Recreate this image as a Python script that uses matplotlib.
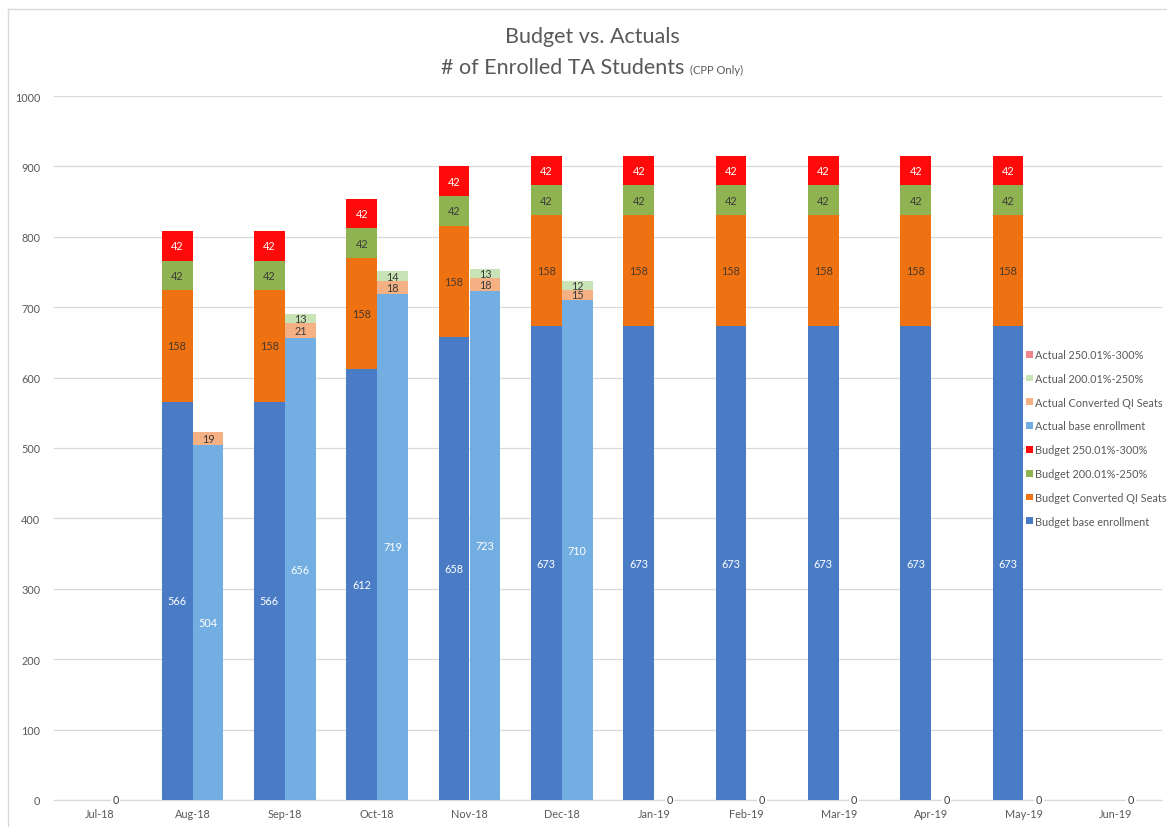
import matplotlib
matplotlib.use("Agg")
import matplotlib.pyplot as plt
from matplotlib.patches import Patch
from matplotlib.lines import Line2D
import numpy as np

plt.rcParams['font.family'] = ['Lato', 'DejaVu Sans']

months = ["Jul-18", "Aug-18", "Sep-18", "Oct-18", "Nov-18", "Dec-18",
          "Jan-19", "Feb-19", "Mar-19", "Apr-19", "May-19", "Jun-19"]

budget_base = [0, 566, 566, 612, 658, 673, 673, 673, 673, 673, 673, 0]
budget_qi = [0, 158, 158, 158, 158, 158, 158, 158, 158, 158, 158, 0]
budget_200 = [0, 42, 42, 42, 42, 42, 42, 42, 42, 42, 42, 0]
budget_250 = [0, 42, 42, 42, 42, 42, 42, 42, 42, 42, 42, 0]

actual_base = [0, 504, 656, 719, 723, 710, 0, 0, 0, 0, 0, 0]
actual_qi = [0, 19, 21, 18, 18, 15, 0, 0, 0, 0, 0, 0]
actual_200 = [0, 0, 13, 14, 13, 12, 0, 0, 0, 0, 0, 0]
actual_250 = [0, 0, 0, 0, 0, 0, 0, 0, 0, 0, 0, 0]

yticks = list(range(0, 1001, 100))

C_BASE = "#4A7CC6"
C_QI = "#EE7112"
C_200 = "#8FB350"
C_250 = "#FF0A0A"
C_ABASE = "#72AEE2"
C_AQI = "#F5B184"
C_A200 = "#C8E3B5"
C_A250 = "#F2848E"

W, H = 1167, 828
fig = plt.figure(figsize=(W / 100, H / 100), dpi=100)
AX_L, AX_R, AX_B, AX_T = 54, 1162, 801, 97
ax = fig.add_axes([AX_L / W, (H - AX_B) / H, (AX_R - AX_L) / W, (AX_B - AX_T) / H])

x = np.arange(len(months))
bw = 0.335
xb = x - bw / 2
xa = x + bw / 2

def stack(ax, xs, layers, colors, label_colors):
    bottom = np.zeros(len(xs))
    for vals, col, lc in zip(layers, colors, label_colors):
        vals = np.array(vals, dtype=float)
        bars = ax.bar(xs, vals, bw, bottom=bottom, color=col, edgecolor="none", zorder=3)
        for rect, v, b in zip(bars, vals, bottom):
            if v > 0:
                ax.text(rect.get_x() + rect.get_width() / 2, b + v / 2, f"{int(v)}",
                        ha="center", va="center", fontsize=7.8, color=lc, zorder=4)
        bottom = bottom + vals
    return bottom

stack(ax, xb, [budget_base, budget_qi, budget_200, budget_250],
      [C_BASE, C_QI, C_200, C_250],
      ["white", "#4a3a2a", "#3a3a3a", "white"])
stack(ax, xa, [actual_base, actual_qi, actual_200, actual_250],
      [C_ABASE, C_AQI, C_A200, C_A250],
      ["white", "#3a3a3a", "#3a3a3a", "white"])

# zero-value labels for months with no actual enrollment yet
for xi, v, q, g, r in zip(xa, actual_base, actual_qi, actual_200, actual_250):
    if v + q + g + r == 0:
        ax.text(xi, 0, "0", ha="center", va="center", fontsize=7.8, color="#404040",
                zorder=5, bbox=dict(boxstyle="square,pad=0.15", fc="white", ec="none"))

ax.set_xlim(-0.5, len(months) - 0.5)
ax.set_ylim(0, 1000)
ax.set_yticks(yticks)
ax.set_yticklabels([str(t) for t in yticks], fontsize=7.8, color="#595959")
ax.set_xticks(x)
ax.set_xticklabels(months, fontsize=7.8, color="#595959")
ax.tick_params(axis="both", length=0)
ax.tick_params(axis="y", pad=10)
ax.tick_params(axis="x", pad=6)
ax.grid(axis="y", color="#D9D9D9", linewidth=0.9, zorder=0)
ax.set_axisbelow(True)
for s in ["top", "right", "left"]:
    ax.spines[s].set_visible(False)
ax.spines["bottom"].set_color("#D9D9D9")
ax.spines["bottom"].set_linewidth(0.9)

legend_items = [
    ("Actual 250.01%-300%", C_A250),
    ("Actual 200.01%-250%", C_A200),
    ("Actual Converted QI Seats", C_AQI),
    ("Actual base enrollment", C_ABASE),
    ("Budget 250.01%-300%", C_250),
    ("Budget 200.01%-250%", C_200),
    ("Budget Converted QI Seats", C_QI),
    ("Budget base enrollment", C_BASE),
]
handles = [Patch(facecolor=c, edgecolor="none", label=l) for l, c in legend_items]
leg = ax.legend(handles=handles, loc="upper left",
                bbox_to_anchor=((1025 - AX_L) / (AX_R - AX_L), (AX_B - 349) / (AX_B - AX_T)),
                frameon=True, fancybox=False, facecolor="white", edgecolor="none",
                framealpha=1, fontsize=7.8, handlelength=0.6, handleheight=0.6,
                handletextpad=0.25, labelspacing=1.18, borderaxespad=0, borderpad=0.1)
leg.set_zorder(6)
for t in leg.get_texts():
    t.set_color("#595959")

# chart frame
fig.add_artist(Line2D([8 / W, 8 / W], [0, 1 - 10 / H], color="#D9D9D9", lw=1))
fig.add_artist(Line2D([8 / W, 1], [1 - 10 / H, 1 - 10 / H], color="#D9D9D9", lw=1))

# titles
fig.text(592 / W, 1 - 37 / H, "Budget vs. Actuals", ha="center", va="center",
         fontsize=15.5, color="#595959")
t_main = fig.text(0, 1 - 68 / H, "# of Enrolled TA Students ", ha="left", va="center",
                  fontsize=15.5, color="#595959")
t_small = fig.text(0, 1 - 70 / H, "(CPP Only)", ha="left", va="center",
                   fontsize=8, color="#595959")
fig.canvas.draw()
r = fig.canvas.get_renderer()
w1 = t_main.get_window_extent(r).width
w2 = t_small.get_window_extent(r).width
start = 592 - (w1 + w2) / 2
t_main.set_x(start / W)
t_small.set_x((start + w1) / W)

fig.savefig("out.png", dpi=100)
